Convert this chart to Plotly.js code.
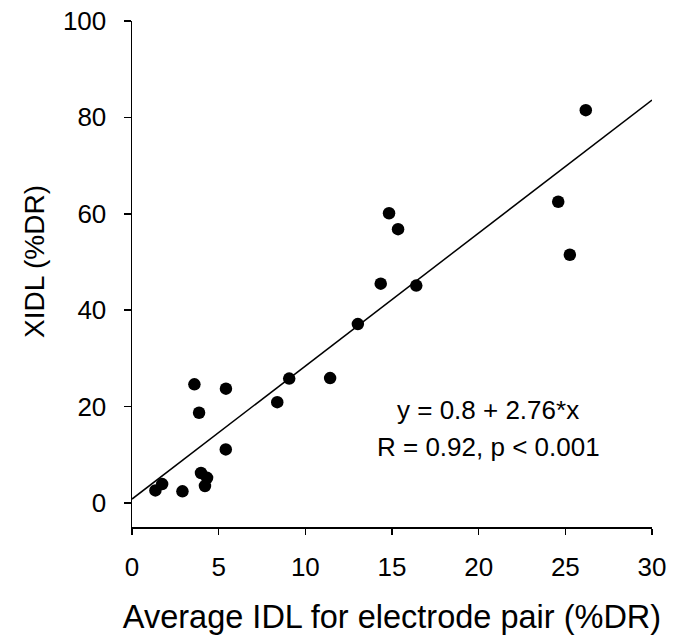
<!DOCTYPE html>
<html>
<head>
<meta charset="utf-8">
<script src="https://cdn.plot.ly/plotly-3.0.1.min.js"></script>
<style>
html,body{margin:0;padding:0;background:#fff;}
#chart{width:673px;height:642px;}
</style>
</head>
<body>
<div id="chart"></div>
<script>
// Average IDL for electrode pair (%DR)
var idlX = [1.35, 1.74, 2.91, 3.60, 3.87, 3.98, 4.33, 4.21, 5.42, 5.41, 8.38, 9.07, 11.43, 13.03, 14.35, 14.83, 15.35, 16.40, 24.59, 25.26, 26.18];
// XIDL (%DR)
var xidlY = [2.6, 3.9, 2.4, 24.6, 18.7, 6.2, 5.2, 3.5, 23.7, 11.1, 20.9, 25.8, 25.9, 37.1, 45.5, 60.1, 56.8, 45.1, 62.5, 51.5, 81.5];
// Regression line y = 0.8 + 2.76*x
var fitX = [0, 30];
var fitY = [0.8, 83.6];
var eqText = "y = 0.8 + 2.76*x";
var statText = "R = 0.92, p < 0.001";
var xTitle = "Average IDL for electrode pair (%DR)";
var yTitle = "XIDL (%DR)";
var xTicks = [0, 5, 10, 15, 20, 25, 30];
var yTicks = [0, 20, 40, 60, 80, 100];

var FONT = "Liberation Sans, Arial, sans-serif";

var traces = [
  {x: fitX, y: fitY, mode: "lines", type: "scatter",
   line: {color: "#000", width: 1.5}, hoverinfo: "skip"},
  {x: idlX, y: xidlY, mode: "markers", type: "scatter",
   marker: {color: "#000", size: 12.5}}
];

var layout = {
  width: 673, height: 642,
  margin: {l: 131.5, r: 20.7, t: 20.7, b: 114.5},
  paper_bgcolor: "#fff", plot_bgcolor: "#fff",
  showlegend: false,
  font: {family: FONT, color: "#000", size: 26},
  xaxis: {
    range: [0, 30], tickvals: xTicks, ticktext: xTicks.map(String),
    showgrid: false, zeroline: false, showline: true, linecolor: "#000", linewidth: 1.5,
    ticks: "outside", ticklen: 6, tickwidth: 1.5, tickcolor: "#000",
    ticklabelstandoff: 10,
    tickfont: {family: FONT, size: 26, color: "#000"},
    title: {text: xTitle, font: {family: FONT, size: 32.5, color: "#000"}, standoff: 24}
  },
  yaxis: {
    range: [-5, 100], tickvals: yTicks, ticktext: yTicks.map(String),
    showgrid: false, zeroline: false, showline: true, linecolor: "#000", linewidth: 1.5,
    ticks: "outside", ticklen: 7, tickwidth: 1.5, tickcolor: "#000",
    ticklabelstandoff: 12,
    tickfont: {family: FONT, size: 26, color: "#000"}
  },
  annotations: [
    {x: 20.54, y: 19.35, xref: "x", yref: "y", text: eqText, showarrow: false,
     xanchor: "center", yanchor: "middle", font: {family: FONT, size: 26, color: "#000"}},
    {x: 20.54, y: 11.5, xref: "x", yref: "y", text: statText, showarrow: false,
     xanchor: "center", yanchor: "middle", font: {family: FONT, size: 26, color: "#000"}},
    {x: 0, y: 50, xref: "paper", yref: "y", xshift: -97, text: yTitle, textangle: -90,
     showarrow: false, xanchor: "center", yanchor: "middle",
     font: {family: FONT, size: 28, color: "#000"}}
  ]
};

Plotly.newPlot("chart", traces, layout, {displayModeBar: false, staticPlot: true});
</script>
</body>
</html>
